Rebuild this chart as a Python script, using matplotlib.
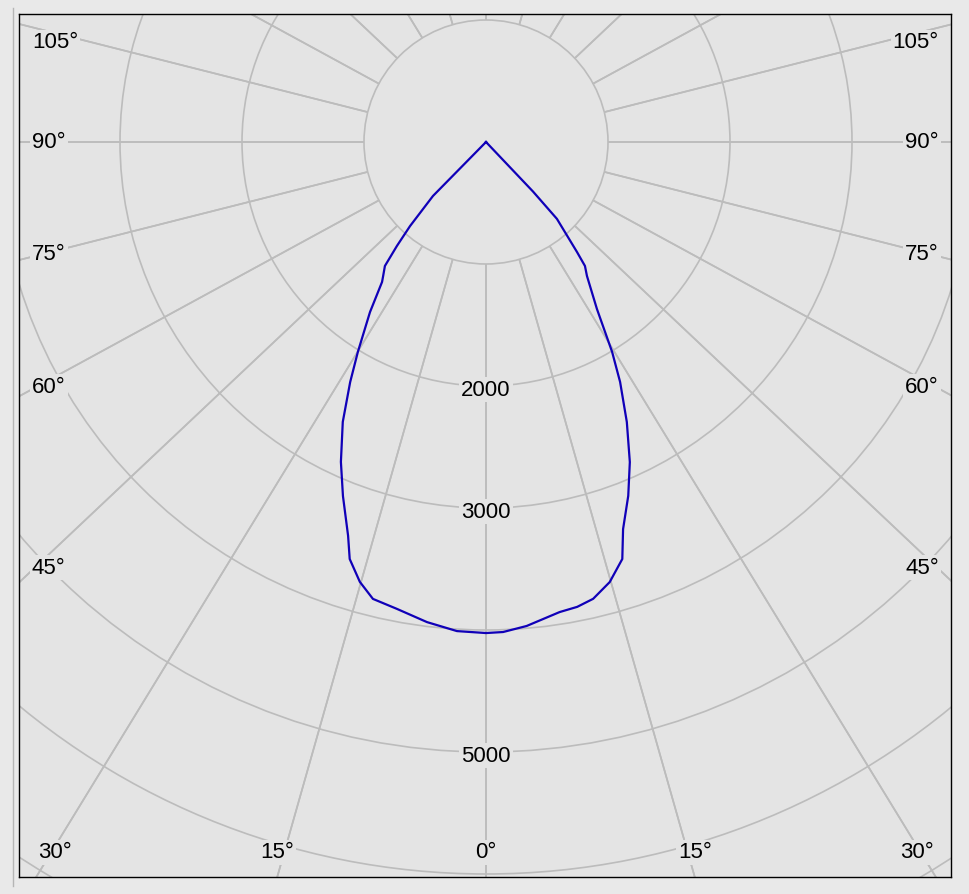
import numpy as np
import matplotlib
matplotlib.use("Agg")
import matplotlib.pyplot as plt
from matplotlib.patches import Circle
from matplotlib.lines import Line2D

# ---------------- data ----------------
# luminous intensity (cd) vs gamma angle (deg), two half-planes
left_angles = [0, 3.4, 7.0, 10.8, 13.9, 16.0, 18.1, 19.3, 22.0, 24.4, 27.1, 29.5,
               31.4, 34.3, 36.6, 37.5, 39.2, 40.6, 42.1, 44.5, 50, 90]
left_intensity = [4025, 4016, 3965, 3896, 3858, 3751, 3596, 3420, 3130, 2879, 2577, 2261,
                  2016, 1687, 1429, 1385, 1311, 1122, 929, 620, 0, 0]
right_angles = [0, 2.0, 4.8, 8.9, 11.1, 13.2, 15.7, 18.1, 19.5, 21.9, 24.2, 26.7,
                29.2, 31.0, 33.6, 37.0, 38.6, 39.6, 42.7, 43.5, 50, 90]
right_intensity = [4025, 4019, 3981, 3900, 3883, 3846, 3747, 3596, 3366, 3126, 2876, 2569,
                   2253, 2007, 1643, 1375, 1300, 1170, 857, 560, 0, 0]

ring_values = [1000, 2000, 3000, 4000, 5000, 6000, 7000]
ring_labels = [2000, 3000, 5000]
ray_angles = list(range(0, 360, 15))
side_label_angles = [45, 60, 75, 90, 105]
bottom_label_angles = [0, 15, 30]

# ---------------- style ----------------
FIG_BG = "#e9e9e9"
AX_BG = "#e4e4e4"
GRID = "#bcbcbc"
CURVE = "#1000b8"
FONT = ["Liberation Sans", "DejaVu Sans"]
PX = 1000 / 122.0        # data units (cd) per pixel
K = 1.06                 # horizontal stretch of the angle rays in the original

fig = plt.figure(figsize=(9.69, 8.95), dpi=100, facecolor=FIG_BG)
ax = fig.add_axes([19 / 969, 17 / 895, 932 / 969, 863 / 895])
ax.set_facecolor(AX_BG)
xmin, xmax = (19 - 486) * PX, (951 - 486) * PX
ymax, ymin = (143 - 15) * PX, -(878 - 143) * PX
ax.set_xlim(xmin, xmax)
ax.set_ylim(ymin, ymax)
ax.set_aspect("equal", adjustable="datalim")
ax.set_xticks([])
ax.set_yticks([])
for sp in ax.spines.values():
    sp.set_color("black")
    sp.set_linewidth(1.0)

# rings
for r in ring_values:
    ax.add_patch(Circle((0, 0), r, fill=False, ec=GRID, lw=1.2, zorder=1))

# rays (from the 1000 ring outwards)
for a in ray_angles:
    t = np.radians(a)
    u = np.array([K * np.sin(t), -np.cos(t)])
    u /= np.hypot(*u)
    r0 = ring_values[0]
    ax.plot([r0 * u[0], 12000 * u[0]], [r0 * u[1], 12000 * u[1]],
            color=GRID, lw=1.2, zorder=1, solid_capstyle="butt")
    ax.plot([-r0 * u[0], -12000 * u[0]], [r0 * u[1], 12000 * u[1]],
            color=GRID, lw=1.2, zorder=1, solid_capstyle="butt")

# curve
la = np.radians(left_angles)[::-1]
li = np.array(left_intensity)[::-1]
ra = np.radians(right_angles)
ri = np.array(right_intensity)
xs = np.concatenate([-li * np.sin(la), ri * np.sin(ra)])
ys = np.concatenate([-li * np.cos(la), -ri * np.cos(ra)])
ax.plot(xs, ys, color=CURVE, lw=1.6, zorder=4, solid_joinstyle="round")

bbox = dict(facecolor=AX_BG, edgecolor="none", pad=1.5)
fs = 16

# ring labels
for r in ring_labels:
    ax.text(0, -r - 25, f"{r}", ha="center", va="center", fontsize=fs,
            family=FONT, bbox=bbox, zorder=5)

# side angle labels
x_left = (32 - 486) * PX
x_right = (939 - 486) * PX
y_top_clamp = (143 - 43) * PX
for a in side_label_angles:
    t = np.radians(a)
    y = x_left / (K * np.tan(t)) if a != 90 else 0.0
    y = y + 3 * PX if a < 90 else y
    y = min(y, y_top_clamp)
    ax.text(x_left, y, f"{a}°", ha="left", va="center", fontsize=fs,
            family=FONT, bbox=bbox, zorder=5)
    ax.text(x_right, y, f"{a}°", ha="right", va="center", fontsize=fs,
            family=FONT, bbox=bbox, zorder=5)

# bottom angle labels
y_bottom = -(853 - 143) * PX
x_clamp = (486 - 55) * PX
for a in bottom_label_angles:
    t = np.radians(a)
    x = min(ymin * -1 * K * np.tan(t), x_clamp)
    for sgn in ([1] if a == 0 else [-1, 1]):
        ax.text(sgn * x, y_bottom, f"{a}°", ha="center", va="center",
                fontsize=fs, family=FONT, bbox=bbox, zorder=5)

# window edge line at the far left
fig.add_artist(Line2D([13 / 969, 13 / 969], [1 - 9 / 895, 1 - 887 / 895],
                      color="#b5b5b5", lw=1.0))

fig.savefig("out.png", dpi=100, facecolor=FIG_BG)
